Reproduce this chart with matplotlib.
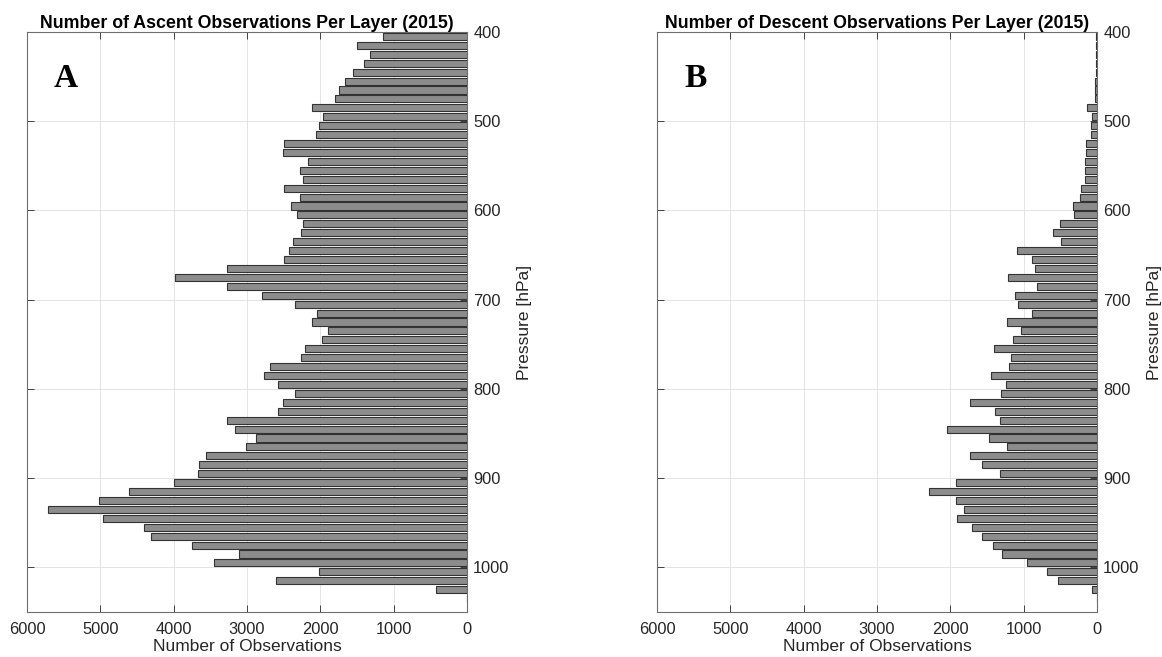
import matplotlib
matplotlib.use("Agg")
import matplotlib.pyplot as plt
import numpy as np

# Pressure layer centers (hPa), 10 hPa bins from 400 to 1040
pressure_centers = list(range(405, 1040, 10))

ascent_counts = [
    1145, 1498, 1321, 1407, 1548, 1659, 1740, 1805, 2113, 1967,
    2017, 2063, 2491, 2506, 2173, 2279, 2234, 2491, 2274, 2395,
    2315, 2234, 2259, 2375, 2426, 2501, 3268, 3979, 3268, 2794,
    2345, 2042, 2118, 1901, 1977, 2204, 2259, 2683, 2763, 2577,
    2340, 2506, 2577, 3273, 3162, 2874, 3011, 3560, 3651, 3671,
    3999, 4604, 5018, 5714, 4967, 4407, 4312, 3747, 3106, 3444,
    2017, 2602, 419, 5,
]

descent_counts = [
    8, 8, 10, 12, 20, 25, 25, 25, 142, 64,
    78, 78, 147, 147, 161, 161, 161, 215, 230, 328,
    318, 504, 597, 489, 1095, 885, 846, 1213, 817, 1125,
    1076, 885, 1222, 1036, 1144, 1408, 1169, 1203, 1447, 1237,
    1310, 1731, 1389, 1320, 2039, 1477, 1227, 1731, 1575, 1325,
    1927, 2289, 1917, 1819, 1912, 1702, 1575, 1413, 1301, 954,
    680, 528, 64, 3,
]

titles = ["Number of Ascent Observations Per Layer (2015)",
          "Number of Descent Observations Per Layer (2015)"]
panel_letters = ["A", "B"]
x_ticks = [0, 1000, 2000, 3000, 4000, 5000, 6000]
y_ticks = [400, 500, 600, 700, 800, 900, 1000]

W, H = 1162, 657
fig = plt.figure(figsize=(W / 100, H / 100), dpi=100)

text_col = "#262626"
axes_px = [(27, 32, 467, 612), (657, 32, 1097, 612)]

for i, (counts, title, letter) in enumerate(zip([ascent_counts, descent_counts], titles, panel_letters)):
    x0, yt, x1, yb = axes_px[i]
    ax = fig.add_axes([x0 / W, (H - yb) / H, (x1 - x0) / W, (yb - yt) / H])
    ax.barh(pressure_centers, counts, height=8, color="#8c8c8c",
            edgecolor="#333333", linewidth=0.8, zorder=3)
    ax.set_xlim(6000, 0)
    ax.set_ylim(1050, 400)
    ax.set_xticks(x_ticks)
    ax.set_yticks(y_ticks)
    ax.yaxis.tick_right()
    ax.yaxis.set_label_position("right")
    ax.tick_params(axis="both", which="both", direction="in", length=5,
                   width=0.6, color=text_col, labelcolor=text_col,
                   labelsize=11.8, top=True, bottom=True, left=True, right=True,
                   labelleft=False, labelright=True)
    ax.tick_params(axis="x", pad=7)
    ax.tick_params(axis="y", pad=4.5)
    ax.grid(True, color="#e3e3e3", linewidth=0.7, zorder=0)
    ax.set_axisbelow(True)
    for s in ax.spines.values():
        s.set_color("#6e6e6e")
        s.set_linewidth(0.8)
    ax.set_xlabel("Number of Observations", fontsize=12.5, color=text_col,
                  family="Liberation Sans")
    ax.xaxis.set_label_coords(0.5, -0.047)
    ax.set_ylabel("Pressure [hPa]", fontsize=12.5, color=text_col,
                  family="Liberation Sans", rotation=90, va="center")
    ax.yaxis.set_label_coords(1.13, 0.5)
    for lab in ax.get_xticklabels() + ax.get_yticklabels():
        lab.set_family("Liberation Sans")
    ax.set_title(title, fontsize=12.8, fontweight="bold", family="Liberation Sans",
                 pad=3, color="black")
    ax.text(0.087, 0.92, letter, transform=ax.transAxes, fontsize=24,
            fontweight="bold", family="Liberation Serif", ha="center", va="center")

fig.savefig("out.png", dpi=100)
